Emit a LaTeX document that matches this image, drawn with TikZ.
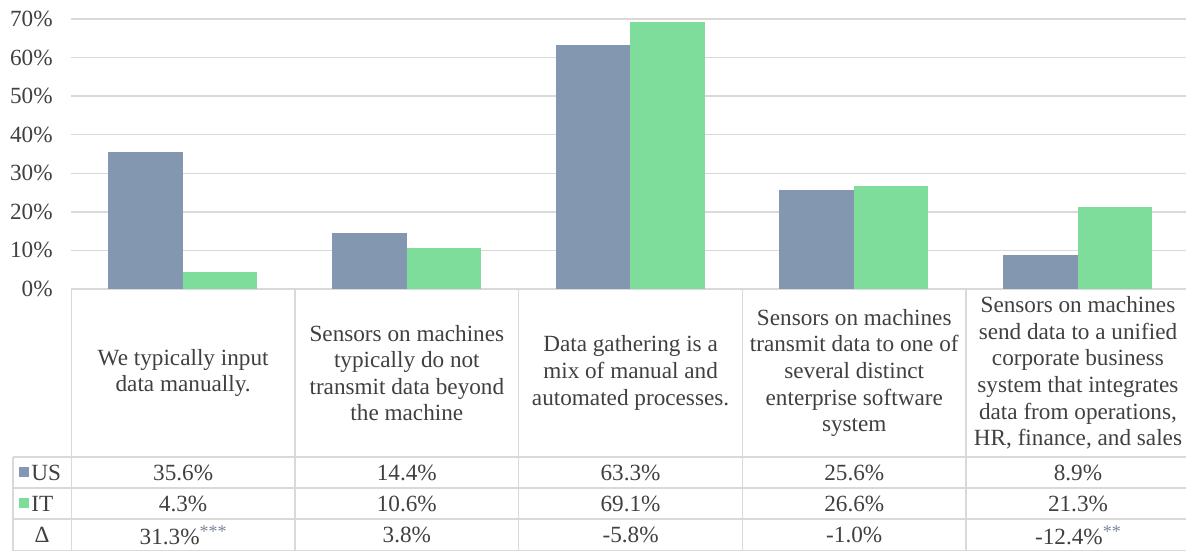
\documentclass[tikz,border=0pt]{standalone}
\usepackage{fontspec}
\setmainfont{Liberation Serif}
\newfontfamily\chartfont{Liberation Serif}
\usetikzlibrary{positioning}

\definecolor{usblue}{HTML}{8497B0}
\definecolor{itgreen}{HTML}{7FDD9C}
\definecolor{gridgray}{HTML}{D9D9D9}
\definecolor{labelgray}{HTML}{404040}
\definecolor{stargray}{HTML}{7A8699}

\newcommand{\sig}[1]{\raisebox{0.3em}{\fontsize{9pt}{9pt}\selectfont\color{stargray}#1}}

\begin{document}
\begin{tikzpicture}[x=0.5pt, y=-0.5pt,
  font=\chartfont\fontsize{11.6pt}{13.3pt}\selectfont,
  gridline/.style={gridgray, line width=0.7pt},
  cell/.style={align=center, inner sep=0pt, text=labelgray},
  ylabel/.style={anchor=east, inner sep=0pt, text=labelgray}]
\useasboundingbox (0,0) rectangle (1186,551);

% Gridlines and axis labels
\foreach \v [count=\i from 0] in {0,10,...,70} {
  \draw[gridline] (71.3,{289-\v*3.857}) -- (1186,{289-\v*3.857});
  \node[ylabel] (ylab\i) at (53,{289-\v*3.857}) {\v\%};
}

% Bars
\foreach \usv/\itv [count=\c from 0] in {35.6/4.3, 14.4/10.6, 63.3/69.1, 25.6/26.6, 8.9/21.3} {
  \fill[usblue] ({108.3+\c*223.7},289) rectangle ++(74.5,{-\usv*3.857});
  \fill[itgreen] ({182.8+\c*223.7},289) rectangle ++(74.5,{-\itv*3.857});
}

% Table lines
\foreach \y in {457,488,519,550.5}
  \draw[gridline] (13,\y) -- (1186,\y);
\draw[gridline] (13,457) -- (13,551);
\foreach \c in {0,...,4}
  \draw[gridline] ({71.3+\c*223.7},289) -- ({71.3+\c*223.7},551);

% Category texts
\node[cell] (cat1) at (183.15,373) {We typically input\\data manually.};
\node[cell] (cat2) at (406.85,373) {Sensors on machines\\typically do not\\transmit data beyond\\the machine};
\node[cell] (cat3) at (630.55,373) {Data gathering is a\\mix of manual and\\automated processes.};
\node[cell] (cat4) at (854.25,373) {Sensors on machines\\transmit data to one of\\several distinct\\enterprise software\\system};
\node[cell] (cat5) at (1077.95,373) {Sensors on machines\\send data to a unified\\corporate business\\system that integrates\\data from operations,\\HR, finance, and sales};

% Row headers
\fill[usblue] (19,467) rectangle (29,477);
\node[cell, anchor=west] (rowus) at (31,472.5) {US};
\fill[itgreen] (19,498) rectangle (29,508);
\node[cell, anchor=west] (rowit) at (31,503.5) {IT};
\node[cell] (rowdelta) at (42,535) {Δ};

% Values
\foreach \usv/\itv/\dv [count=\c from 0] in {35.6\%/4.3\%/31.3\%\sig{***},
    14.4\%/10.6\%/3.8\%, 63.3\%/69.1\%/-5.8\%, 25.6\%/26.6\%/-1.0\%,
    8.9\%/21.3\%/-12.4\%\sig{**}} {
  \node[cell] (us\c) at ({183.15+\c*223.7},472.5) {\usv};
  \node[cell] (it\c) at ({183.15+\c*223.7},503.5) {\itv};
  \node[cell] (d\c) at ({183.15+\c*223.7},535) {\dv};
}
\end{tikzpicture}
\end{document}
